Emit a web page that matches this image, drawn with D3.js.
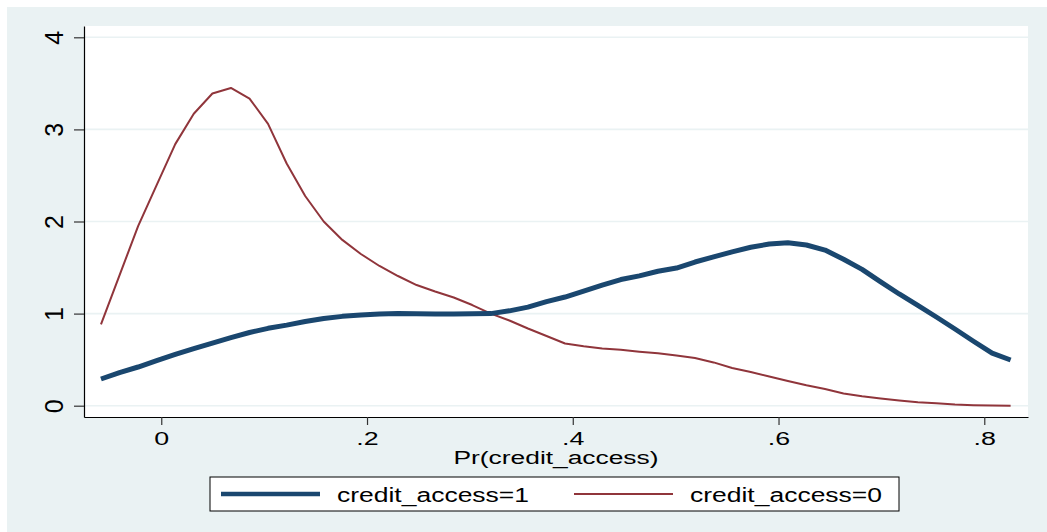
<!DOCTYPE html>
<html>
<head>
<meta charset="utf-8">
<script src="https://cdn.jsdelivr.net/npm/d3@7/dist/d3.min.js"></script>
<style>
  html, body { margin: 0; padding: 0; background: #ffffff; }
  svg { display: block; }
  text { font-family: "Liberation Sans", Arial, sans-serif; fill: #000; }
</style>
</head>
<body>
<svg id="chart" width="1047" height="532"></svg>
<script>
// Kernel density evaluation points of Pr(credit_access)
const evalPoints = [
  -0.0586, -0.0406, -0.0225, -0.0045, 0.0136, 0.0316, 0.0497, 0.0677, 0.0858, 0.1038,
   0.1219,  0.1399,  0.1579,  0.1760, 0.1940, 0.2121, 0.2301, 0.2482, 0.2662, 0.2843,
   0.3023,  0.3203,  0.3384,  0.3564, 0.3745, 0.3925, 0.4106, 0.4286, 0.4467, 0.4647,
   0.4828,  0.5008,  0.5188,  0.5369, 0.5549, 0.5730, 0.5910, 0.6091, 0.6271, 0.6452,
   0.6632,  0.6812,  0.6993,  0.7173, 0.7354, 0.7534, 0.7715, 0.7895, 0.8076, 0.8256
];

// Density, credit_access = 1
const densityAccess1 = [
  0.29, 0.36, 0.42, 0.49, 0.556, 0.62, 0.68, 0.74, 0.795, 0.84,
  0.875, 0.915, 0.947, 0.97, 0.985, 0.995, 1.0, 0.998, 0.995, 0.995,
  0.999, 1.0, 1.03, 1.07, 1.13, 1.18, 1.245, 1.31, 1.37, 1.41,
  1.46, 1.495, 1.56, 1.615, 1.67, 1.72, 1.755, 1.77, 1.745, 1.69,
  1.59, 1.48, 1.345, 1.213, 1.09, 0.963, 0.833, 0.70, 0.57, 0.496
];

// Density, credit_access = 0
const densityAccess0 = [
  0.884, 1.415, 1.95, 2.395, 2.84, 3.17, 3.39, 3.45, 3.335, 3.06,
  2.63, 2.277, 2.0, 1.80, 1.647, 1.517, 1.408, 1.31, 1.24, 1.175,
  1.093, 1.0, 0.925, 0.838, 0.757, 0.675, 0.645, 0.62, 0.608, 0.587,
  0.569, 0.545, 0.518, 0.47, 0.41, 0.366, 0.317, 0.268, 0.221, 0.181,
  0.132, 0.102, 0.078, 0.056, 0.038, 0.026, 0.013, 0.005, 0.001, 0.0
];

const xTicks = [0, 0.2, 0.4, 0.6, 0.8];
const xTickLabels = ["0", ".2", ".4", ".6", ".8"];
const yTicks = [0, 1, 2, 3, 4];
const yTickLabels = ["0", "1", "2", "3", "4"];

const seriesNames = ["credit_access=1", "credit_access=0"];
const xTitle = "Pr(credit_access)";

const NAVY = "#1a476f";
const MAROON = "#90353b";
const REGION = "#eaf2f3";

const svg = d3.select("#chart");
const W = 1047, H = 532;
const plot = { left: 84, top: 26, right: 1028, bottom: 417 };

// graph region
svg.append("rect").attr("x", 0).attr("y", 0).attr("width", W).attr("height", H).attr("fill", "#ffffff");
svg.append("rect").attr("x", 7).attr("y", 7).attr("width", W - 7).attr("height", H - 7).attr("fill", REGION);
// plot region
svg.append("rect")
  .attr("x", plot.left).attr("y", plot.top)
  .attr("width", plot.right - plot.left).attr("height", plot.bottom - plot.top)
  .attr("fill", "#ffffff");

const x = d3.scaleLinear().domain([-0.0751, 0.8425]).range([plot.left, plot.right]);
const y = d3.scaleLinear().domain([-0.1227, 4.1227]).range([plot.bottom, plot.top]);

// horizontal grid lines
svg.append("g").selectAll("line").data(yTicks).join("line")
  .attr("x1", plot.left).attr("x2", plot.right)
  .attr("y1", d => y(d)).attr("y2", d => y(d))
  .attr("stroke", REGION).attr("stroke-width", 1.6);

// y axis
const yAxis = svg.append("g")
  .attr("transform", `translate(${plot.left},0)`)
  .call(d3.axisLeft(y).tickValues(yTicks).tickSize(10).tickSizeOuter(0)
    .tickFormat((d, i) => yTickLabels[i]));
yAxis.select(".domain").attr("stroke", "#000").attr("stroke-width", 1.2);
yAxis.selectAll(".tick line").attr("stroke", "#333").attr("stroke-width", 1.2);
yAxis.selectAll(".tick text")
  .attr("x", 0).attr("y", 0).attr("dy", 0)
  .attr("text-anchor", "middle")
  .attr("transform", "translate(-21,0) rotate(-90)")
  .style("font-family", "'Liberation Sans', Arial, sans-serif")
  .style("font-size", "25px").attr("fill", "#000");

// x axis
const xAxis = svg.append("g")
  .attr("transform", `translate(0,${plot.bottom})`)
  .call(d3.axisBottom(x).tickValues(xTicks).tickSize(8).tickSizeOuter(0)
    .tickFormat((d, i) => xTickLabels[i]));
xAxis.select(".domain").attr("stroke", "#000").attr("stroke-width", 1.2);
xAxis.selectAll(".tick line").attr("stroke", "#333").attr("stroke-width", 1.2);
xAxis.selectAll(".tick text")
  .attr("y", 0).attr("dy", 0)
  .attr("text-anchor", "middle")
  .attr("transform", "translate(0,28) scale(1.45,1)")
  .style("font-family", "'Liberation Sans', Arial, sans-serif")
  .style("font-size", "18.5px").attr("fill", "#000");

// axis title
svg.append("text")
  .attr("x", (plot.left + plot.right) / 2).attr("y", 463.5)
  .attr("text-anchor", "middle")
  .attr("textLength", 205).attr("lengthAdjust", "spacingAndGlyphs")
  .style("font-size", "18px")
  .text(xTitle);

// density curves
const line = d3.line().x((d, i) => x(evalPoints[i])).y(d => y(d));
svg.append("path").datum(densityAccess0)
  .attr("d", line).attr("fill", "none")
  .attr("stroke", MAROON).attr("stroke-width", 2).attr("stroke-linejoin", "round");
svg.append("path").datum(densityAccess1)
  .attr("d", line).attr("fill", "none")
  .attr("stroke", NAVY).attr("stroke-width", 5).attr("stroke-linejoin", "round");

// legend
const legend = svg.append("g");
legend.append("rect")
  .attr("x", 210).attr("y", 477).attr("width", 689).attr("height", 34)
  .attr("fill", "#ffffff").attr("stroke", "#000").attr("stroke-width", 1);
const legendItems = [
  { name: seriesNames[0], color: NAVY, width: 4.5, x0: 221 },
  { name: seriesNames[1], color: MAROON, width: 2.2, x0: 574 }
];
legendItems.forEach(it => {
  legend.append("line")
    .attr("x1", it.x0).attr("x2", it.x0 + 99)
    .attr("y1", 494).attr("y2", 494)
    .attr("stroke", it.color).attr("stroke-width", it.width);
  legend.append("text")
    .attr("x", it.x0 + 116).attr("y", 501.5)
    .attr("textLength", 192).attr("lengthAdjust", "spacingAndGlyphs")
    .style("font-size", "20px")
    .text(it.name);
});
</script>
</body>
</html>
